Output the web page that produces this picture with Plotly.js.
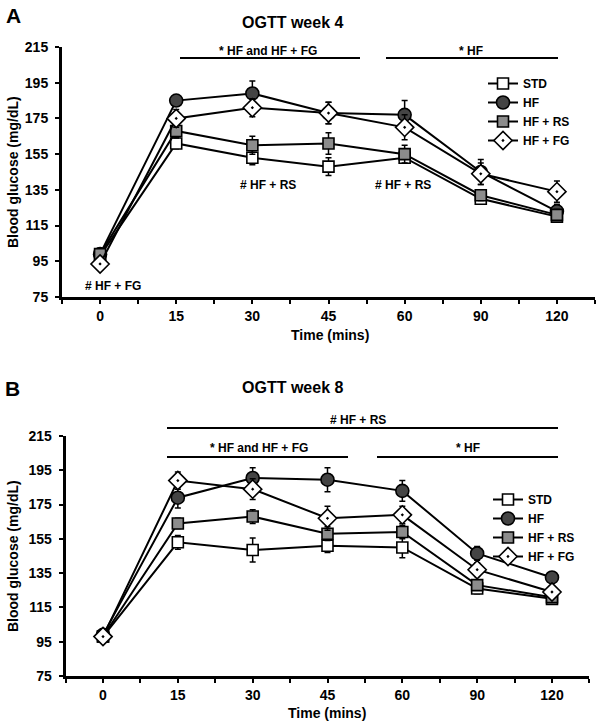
<!DOCTYPE html>
<html>
<head>
<meta charset="utf-8">
<script src="https://cdn.plot.ly/plotly-3.0.1.min.js"></script>
<style>html,body{margin:0;padding:0;background:#fff;}#chart{width:600px;height:723px;}</style>
</head>
<body>
<div id="chart"></div>
<script>
// ---- data ----
const timeLabels = ['0', '15', '30', '45', '60', '90', '120'];
const seriesNames = ['STD', 'HF', 'HF + RS', 'HF + FG'];

// week 4 (panel A)
const w4_STD     = [98, 161, 153, 148, 153, 130, 120];
const w4_STD_err = [2, 3, 4, 5, 3, 3, 2];
const w4_HF      = [99, 185, 189, 178, 177, 145, 123];
const w4_HF_err  = [2, 2, 7, 6, 8, 7, 4];
const w4_RS      = [99, 168, 160, 161, 155, 132, 121];
const w4_RS_err  = [2, 4, 5, 6, 5, 3, 3];
const w4_FG      = [93.5, 175, 181, 178, 170, 144, 134];
const w4_FG_err  = [2, 5, 5, 6, 7, 6, 6];

// week 8 (panel B)
const w8_STD     = [98, 153, 148.5, 151, 150, 126, 120];
const w8_STD_err = [2, 4, 7, 4, 6, 3, 3];
const w8_HF      = [99, 179, 190.5, 189.5, 183, 146.5, 132.5];
const w8_HF_err  = [2, 6, 6, 7, 6, 4, 3];
const w8_RS      = [98, 164, 168, 158, 159, 128, 121];
const w8_RS_err  = [2, 3, 4, 4, 4, 3, 2];
const w8_FG      = [98, 189, 184, 167, 169, 137, 124];
const w8_FG_err  = [2, 5, 6, 7, 5, 4, 3];

const yTicks = [75, 95, 115, 135, 155, 175, 195, 215];

// ---- helpers ----
const W = 600, H = 723;
const px = x => x / W;
const py = y => 1 - y / H;
const FONT = 'Liberation Sans, Arial, sans-serif';
const xIdx = timeLabels.map((_, i) => i);

const styles = [
  {symbol: 'square', size: 11, color: '#ffffff'},
  {symbol: 'circle', size: 13, color: '#444444'},
  {symbol: 'square', size: 11, color: '#8c8c8c'},
  {symbol: 'diamond-dot', size: 14, color: '#ffffff'}
];

function mk(name, vals, errs, k, xa, ya, leg) {
  const s = styles[k];
  return {
    type: 'scatter', mode: 'lines+markers', name: name,
    x: xIdx, y: vals, xaxis: xa, yaxis: ya, legend: leg,
    line: {color: '#000', width: 2},
    marker: {symbol: s.symbol, size: s.size, color: s.color, line: {color: '#000', width: 1.6}},
    error_y: {type: 'data', array: errs, visible: true, color: '#000', thickness: 1.5, width: 3},
    cliponaxis: false
  };
}

const data = [
  mk(seriesNames[0], w4_STD, w4_STD_err, 0, 'x', 'y', 'legend'),
  mk(seriesNames[1], w4_HF, w4_HF_err, 1, 'x', 'y', 'legend'),
  mk(seriesNames[2], w4_RS, w4_RS_err, 2, 'x', 'y', 'legend'),
  mk(seriesNames[3], w4_FG, w4_FG_err, 3, 'x', 'y', 'legend'),
  mk(seriesNames[0], w8_STD, w8_STD_err, 0, 'x2', 'y2', 'legend2'),
  mk(seriesNames[1], w8_HF, w8_HF_err, 1, 'x2', 'y2', 'legend2'),
  mk(seriesNames[2], w8_RS, w8_RS_err, 2, 'x2', 'y2', 'legend2'),
  mk(seriesNames[3], w8_FG, w8_FG_err, 3, 'x2', 'y2', 'legend2')
];

const minorVals = [-0.5, 0.5, 1.5, 2.5, 3.5, 4.5, 5.5, 6.5];

function xAxis(domain, anchor) {
  return {
    domain: domain, anchor: anchor, range: [-0.5, 6.5],
    tickmode: 'array', tickvals: xIdx, ticktext: timeLabels,
    ticks: 'outside', ticklen: 4, tickwidth: 2, tickcolor: '#000',
    minor: {tickmode: 'array', tickvals: minorVals, ticks: 'outside', ticklen: 4, tickwidth: 2, tickcolor: '#000'},
    showline: true, linewidth: 3, linecolor: '#000',
    showgrid: false, zeroline: false,
    tickfont: {family: FONT, size: 14, color: '#000', weight: 'bold'},
    fixedrange: true
  };
}
function yAxis(domain, anchor) {
  return {
    domain: domain, anchor: anchor, range: [75, 215],
    tickmode: 'array', tickvals: yTicks,
    ticks: 'outside', ticklen: 4, tickwidth: 2, tickcolor: '#000',
    showline: true, linewidth: 3, linecolor: '#000',
    showgrid: false, zeroline: false,
    ticklabelstandoff: 4,
    tickfont: {family: FONT, size: 14, color: '#000', weight: 'bold'},
    fixedrange: true
  };
}

function txt(text, x, y, size, extra) {
  return Object.assign({
    text: text, x: px(x), y: py(y), xref: 'paper', yref: 'paper',
    xanchor: 'center', yanchor: 'middle', showarrow: false,
    font: {family: FONT, size: size, color: '#000', weight: 'bold'}
  }, extra || {});
}
function hline(x0, x1, y) {
  return {type: 'line', xref: 'paper', yref: 'paper', x0: px(x0), x1: px(x1), y0: py(y), y1: py(y),
          line: {color: '#000', width: 2}};
}

const annotations = [
  // panel A
  txt('A', 13, 15, 21),
  txt('OGTT week 4', 292, 22, 16),
  txt('* HF and HF + FG', 268, 51, 12),
  txt('* HF', 471, 51, 12),
  txt('# HF + RS', 268, 185, 12),
  txt('# HF + RS', 403, 185, 12),
  txt('# HF + FG', 113, 286, 12),
  txt('Blood glucose (mg/dL)', 13, 172, 14, {textangle: -90}),
  txt('Time (mins)', 330, 335, 14),
  // panel B
  txt('B', 12, 388, 21),
  txt('OGTT week 8', 292, 387, 16),
  txt('# HF + RS', 358, 420, 12),
  txt('* HF and HF + FG', 259, 448, 12),
  txt('* HF', 468, 448, 12),
  txt('Blood glucose (mg/dL)', 13, 556, 14, {textangle: -90}),
  txt('Time (mins)', 327, 713, 14)
];

const shapes = [
  hline(180, 360, 58), hline(386, 558, 58),
  hline(167, 558, 428), hline(167, 348, 457), hline(377, 558, 457)
];

const legFont = {family: FONT, size: 12, color: '#000', weight: 'bold'};

const layout = {
  width: W, height: H,
  margin: {l: 0, r: 0, t: 0, b: 0},
  paper_bgcolor: '#fff', plot_bgcolor: '#fff',
  xaxis: xAxis([px(62), px(595)], 'y'),
  yaxis: yAxis([py(297), py(47)], 'x'),
  xaxis2: xAxis([px(65.6), px(589.4)], 'y2'),
  yaxis2: yAxis([py(676), py(436)], 'x2'),
  legend: {x: px(483), y: py(69), xanchor: 'left', yanchor: 'top', font: legFont,
           bgcolor: 'rgba(0,0,0,0)', itemwidth: 30, tracegroupgap: 0},
  legend2: {x: px(488), y: py(485), xanchor: 'left', yanchor: 'top', font: legFont,
            bgcolor: 'rgba(0,0,0,0)', itemwidth: 30, tracegroupgap: 0},
  annotations: annotations,
  shapes: shapes,
  showlegend: true
};

Plotly.newPlot('chart', data, layout, {displayModeBar: false, staticPlot: true});
</script>
</body>
</html>
